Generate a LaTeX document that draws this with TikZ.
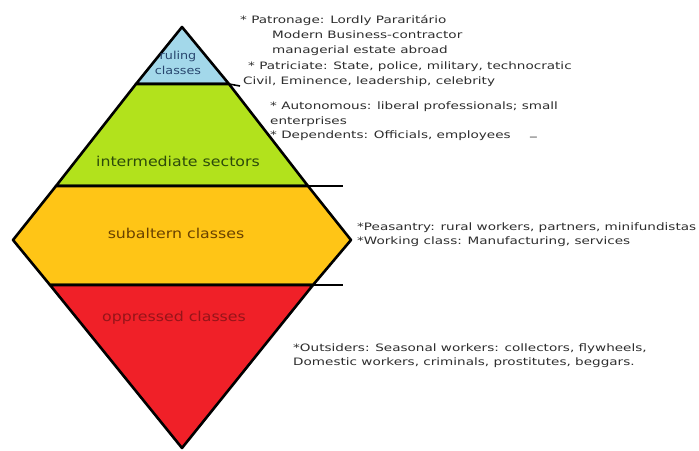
\documentclass[tikz,border=0pt]{standalone}
\usepackage{fontspec}
\newfontfamily\notefont[FakeStretch=1.16]{DejaVu Sans}
\newfontfamily\widefont[FakeStretch=1.33]{DejaVu Sans}
\definecolor{rulingblue}{RGB}{163,216,234}
\definecolor{midgreen}{RGB}{178,226,28}
\definecolor{subyellow}{RGB}{255,197,22}
\definecolor{oppred}{RGB}{240,32,40}
\definecolor{notegray}{RGB}{45,45,45}

\tikzset{
  band/.style={draw=black, line width=2.6pt, line join=round},
  bandlabel/.style={font=\notefont\fontsize{13.6}{16}\selectfont, align=center, inner sep=0pt},
  note/.style={anchor=west, font=\widefont\fontsize{10.2}{12}\selectfont, text=notegray, inner sep=0pt},
}

\begin{document}
\begin{tikzpicture}[x=1pt,y=-1pt]
       \useasboundingbox (0,0) rectangle (699,450);
       % corners of the pyramid
       \coordinate (apex) at (182,27);
       \coordinate (rulL) at (136,84);
       \coordinate (rulR) at (229,84);
       \coordinate (midL) at (56,186);
       \coordinate (midR) at (308,186);
       \coordinate (leftV) at (13,240);
       \coordinate (rightV) at (351,240);
       \coordinate (oppL) at (50,285);
       \coordinate (oppR) at (313,285);
       \coordinate (bottom) at (182,448);
       % bands
       \filldraw [band, fill=rulingblue] (apex) -- (rulR) -- (rulL) -- cycle;
       \filldraw [band, fill=midgreen] (rulL) -- (rulR) -- (midR) -- (midL) -- cycle;
       \filldraw [band, fill=subyellow] (midL) -- (midR) -- (rightV) -- (oppR) -- (oppL) -- (leftV) -- cycle;
       \filldraw [band, fill=oppred] (oppL) -- (oppR) -- (bottom) -- cycle;
       % ticks to the right
       \coordinate (tickA) at (240,86);
       \coordinate (tickB) at (343,186);
       \coordinate (tickC) at (343,285);
       \draw [line width=1.6pt] (rulR) -- (tickA);
       \draw [line width=1.6pt] (midR) -- (tickB);
       \draw [line width=1.6pt] (oppR) -- (tickC);
       % labels in the bands
       \node [bandlabel, font=\notefont\fontsize{11}{15}\selectfont, text={rgb,255:red,40;green,70;blue,110}] (ruling) at (178,63) {ruling\\ classes};
       \node [bandlabel, text={rgb,255:red,45;green,75;blue,10}] (intermediate) at (178,161) {intermediate sectors};
       \node [bandlabel, text={rgb,255:red,105;green,65;blue,0}] (subaltern) at (176,233) {subaltern classes};
       \node [bandlabel, text={rgb,255:red,150;green,20;blue,25}] (oppressed) at (174,318) {oppressed classes};
       % notes
       \node [note] (patronage) at (240,20) {* Patronage: Lordly Pararitário};
       \node [note] (modern) at (272,35) {Modern Business-contractor};
       \node [note] (managerial) at (272,51) {managerial estate abroad};
       \node [note] (patriciate) at (248,67) {* Patriciate: State, police, military, technocratic};
       \node [note] (civil) at (243,82) {Civil, Eminence, leadership, celebrity};
       \node [note] (autonomous) at (270,107) {* Autonomous: liberal professionals; small};
       \node [note] (enterprises) at (270,122) {enterprises};
       \node [note] (dependents) at (270,136) {* Dependents: Officials, employees};
       \node [note] (stray) at (530,137) {\_};
       \node [note] (peasantry) at (357,228) {*Peasantry: rural workers, partners, minifundistas};
       \node [note] (working) at (357,242) {*Working class: Manufacturing, services};
       \node [note] (outsiders) at (293,349) {*Outsiders: Seasonal workers: collectors, flywheels,};
       \node [note] (domestic) at (293,363) {Domestic workers, criminals, prostitutes, beggars.};
      \end{tikzpicture}
\end{document}
